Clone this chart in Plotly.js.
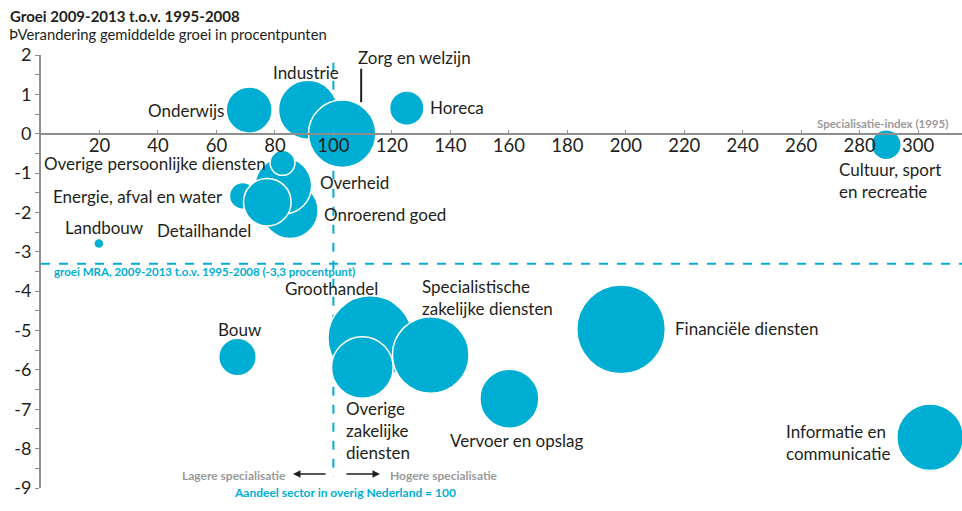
<!DOCTYPE html>
<html>
<head>
<meta charset="utf-8">
<script src="https://cdn.plot.ly/plotly-3.0.1.min.js"></script>
<style>html,body{margin:0;padding:0;background:#fff;}#chart{width:962px;height:511px;}</style>
</head>
<body>
<div id="chart"></div>
<script>
// ---- Data ----
const sectoren = ["Landbouw","Bouw","Onderwijs","Industrie","Zorg en welzijn","Horeca","Onroerend goed","Overheid","Overige persoonlijke diensten","Energie, afval en water","Detailhandel","Groothandel","Overige zakelijke diensten","Specialistische zakelijke diensten","Vervoer en opslag","Financiële diensten","Informatie en communicatie","Cultuur, sport en recreatie"];
const labels = ["Landbouw","Bouw","Onderwijs","Industrie","Zorg en welzijn","Horeca","Onroerend goed","Overheid","Overige persoonlijke diensten","Energie, afval en water","Detailhandel","Groothandel","Overige<br>zakelijke<br>diensten","Specialistische<br>zakelijke diensten","Vervoer en opslag","Financiële diensten","Informatie en<br>communicatie","Cultuur, sport<br>en recreatie"];
const specialisatieIndex = [19.8, 67.2, 71.2, 91.3, 103.0, 125.1, 85.2, 82.9, 82.6, 69.0, 77.4, 112.6, 109.9, 133.3, 160.2, 198.4, 304.1, 289.1];
const groeiVerschil = [-2.79, -5.67, 0.60, 0.61, 0.00, 0.65, -1.95, -1.32, -0.74, -1.58, -1.74, -5.19, -5.94, -5.62, -6.73, -4.97, -7.71, -0.28];
const omvang = [25, 353, 530, 870, 1135, 296, 784, 800, 156, 177, 566, 1790, 950, 1467, 870, 1962, 1110, 225];
const groeiMRA = -3.3;
const referentieIndex = 100;
const xTicks = [20,40,60,80,100,120,140,160,180,200,220,240,260,280,300];
const yTicks = [-9,-8,-7,-6,-5,-4,-3,-2,-1,0,1,2];
const yTickText = ["-9","-8","-7","-6","-5","-4","-3","-2","-1","0","1","2"];

// ---- Label placement (pixels relative to bubble centre) ----
const labelPos = [
  {xs:6, ys:16, xa:"center"},
  {xs:3, ys:27, xa:"center"},
  {xs:-23, ys:0, xa:"right"},
  {xs:-2, ys:37, xa:"center"},
  {xs:14, ys:76, xa:"left"},
  {xs:21, ys:1, xa:"left"},
  {xs:32, ys:-4, xa:"left"},
  {xs:35, ys:3, xa:"left"},
  {xs:-15, ys:-1, xa:"right"},
  {xs:-18, ys:-1, xa:"right"},
  {xs:-14, ys:-28, xa:"right"},
  {xs:-39, ys:50, xa:"center"},
  {xs:-18, ys:-63, xa:"left"},
  {xs:-11, ys:57, xa:"left"},
  {xs:-61, ys:-42, xa:"left"},
  {xs:52, ys:1, xa:"left"},
  {xs:-37, ys:-5, xa:"right"},
  {xs:-49, ys:-36, xa:"left"}
];

const cyan = "#00aed3";
const ink = "#231f20";
const grey = "#9a9a9a";
const FONT = "Lato, 'Open Sans', sans-serif";

const trace = {
  type: "scatter",
  mode: "markers",
  x: specialisatieIndex,
  y: groeiVerschil,
  text: sectoren,
  hoverinfo: "text",
  marker: {
    size: omvang,
    sizemode: "area",
    sizeref: 0.5,
    color: cyan,
    opacity: 1,
    line: {color: "#ffffff", width: 1.5}
  },
  cliponaxis: false
};

const plotH = 511 - 55 - 23, plotW = 962 - 41;
const px2paperX = p => (p - 41) / plotW;
const px2paperY = p => (488 - p) / plotH;

const annotations = sectoren.map((s, i) => ({
  x: specialisatieIndex[i], y: groeiVerschil[i], xref: "x", yref: "y",
  text: labels[i], showarrow: false,
  xshift: labelPos[i].xs, yshift: labelPos[i].ys,
  xanchor: labelPos[i].xa, yanchor: "middle", align: "left",
  font: {family: FONT, size: 17, color: ink}
}));

annotations.push(
  {x: px2paperX(950), y: px2paperY(124), xref: "paper", yref: "paper", text: "<b>Specialisatie-index (1995)</b>", showarrow: false,
   xanchor: "right", yanchor: "middle", font: {family: FONT, size: 11.5, color: grey}},
  {x: px2paperX(52), y: px2paperY(271), xref: "paper", yref: "paper", text: "<b>groei MRA, 2009-2013 t.o.v. 1995-2008 (-3,3 procentpunt)</b>", showarrow: false,
   xanchor: "left", yanchor: "middle", font: {family: FONT, size: 11.5, color: cyan}},
  {x: px2paperX(288), y: px2paperY(475), xref: "paper", yref: "paper", text: "<b>Lagere specialisatie</b>", showarrow: false,
   xanchor: "right", yanchor: "middle", font: {family: FONT, size: 12, color: grey}},
  {x: px2paperX(388), y: px2paperY(475), xref: "paper", yref: "paper", text: "<b>Hogere specialisatie</b>", showarrow: false,
   xanchor: "left", yanchor: "middle", font: {family: FONT, size: 12, color: grey}},
  {x: px2paperX(345), y: px2paperY(492), xref: "paper", yref: "paper", text: "<b>Aandeel sector in overig Nederland = 100</b>", showarrow: false,
   xanchor: "center", yanchor: "middle", font: {family: FONT, size: 12, color: cyan}},
  // arrows
  {x: px2paperX(293), y: px2paperY(474), xref: "paper", yref: "paper", ax: 34, ay: 0, axref: "pixel", ayref: "pixel", text: "", showarrow: true,
   arrowhead: 2, arrowsize: 1, arrowwidth: 1.5, arrowcolor: ink},
  {x: px2paperX(380), y: px2paperY(474), xref: "paper", yref: "paper", ax: -35, ay: 0, axref: "pixel", ayref: "pixel", text: "", showarrow: true,
   arrowhead: 2, arrowsize: 1, arrowwidth: 1.5, arrowcolor: ink},
  // titles
  {x: px2paperX(8), y: px2paperY(16), xref: "paper", yref: "paper", xanchor: "left", yanchor: "middle", showarrow: false,
   text: "<b>Groei 2009-2013 t.o.v. 1995-2008</b>", font: {family: FONT, size: 15, color: ink}},
  {x: px2paperX(7), y: px2paperY(34), xref: "paper", yref: "paper", xanchor: "left", yanchor: "middle", showarrow: false,
   text: "ÞVerandering gemiddelde groei in procentpunten", font: {family: FONT, size: 14.8, color: ink}}
);

const layout = {
  width: 962, height: 511,
  margin: {l: 41, r: 0, t: 55, b: 23},
  paper_bgcolor: "#ffffff", plot_bgcolor: "#ffffff",
  showlegend: false,
  font: {family: FONT, color: ink},
  xaxis: {
    range: [0, 315], tickmode: "array", tickvals: xTicks,
    anchor: "free", position: 9/11,
    showgrid: false, zeroline: false,
    showline: true, linecolor: "#8e8e8e", linewidth: 2,
    ticks: "inside", ticklen: 3, tickwidth: 1, tickcolor: "#8e8e8e",
    ticklabelstandoff: -5,
    tickfont: {family: FONT, size: 18.5, color: ink}
  },
  yaxis: {
    range: [-9, 2], tickmode: "array", tickvals: yTicks, ticktext: yTickText,
    showgrid: false, zeroline: false,
    showline: true, linecolor: "#8e8e8e", linewidth: 2,
    ticks: "outside", ticklen: 4, tickwidth: 1, tickcolor: "#8e8e8e",
    minor: {tickmode: "linear", dtick: 0.5, ticks: "outside", ticklen: 4, tickcolor: "#8e8e8e"},
    tickfont: {family: FONT, size: 18, color: ink}
  },
  shapes: [
    {type: "line", layer: "below", xref: "paper", yref: "y", x0: 0, x1: 1, y0: groeiMRA, y1: groeiMRA,
     line: {color: cyan, width: 2, dash: "dash"}},
    {type: "line", layer: "below", xref: "x", yref: "y", x0: referentieIndex, x1: referentieIndex, y0: 2.26, y1: -8.72,
     line: {color: cyan, width: 2, dash: "dash"}},
    {type: "line", layer: "above", xref: "x", yref: "y", x0: 109.5, x1: 109.5, y0: 1.65, y1: 0.8,
     line: {color: ink, width: 2}}
  ],
  annotations: annotations
};

Plotly.newPlot("chart", [trace], layout, {displayModeBar: false, staticPlot: true});
</script>
</body>
</html>
